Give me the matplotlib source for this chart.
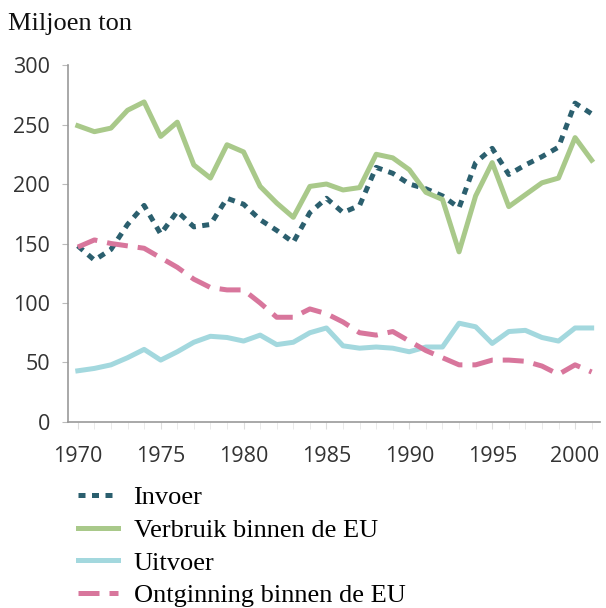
import matplotlib
matplotlib.use("Agg")
import matplotlib.pyplot as plt
from matplotlib.ticker import MultipleLocator

# data (miljoen ton)
years = list(range(1970, 2002))
invoer = [148, 136, 145, 166, 182, 158, 177, 164, 166, 188, 183, 170, 161, 151,
          176, 188, 176, 182, 214, 209, 200, 196, 190, 180, 218, 230, 208, 216,
          223, 231, 268, 259]
verbruik = [249, 244, 247, 262, 269, 240, 252, 216, 205, 233, 227, 198, 184, 172,
            198, 200, 195, 197, 225, 222, 212, 193, 187, 143, 190, 218, 181, 191,
            201, 205, 239, 220]
uitvoer = [43, 45, 48, 54, 61, 52, 59, 67, 72, 71, 68, 73, 65, 67,
           75, 79, 64, 62, 63, 62, 59, 63, 63, 83, 80, 66, 76, 77, 71, 68, 79, 79]
ontginning = [147, 153, 150, 148, 146, 138, 130, 120, 113, 111, 111, 100, 88, 88,
              95, 91, 84, 75, 73, 76, 68, 60, 54, 48, 48, 52, 52, 51, 47, 40, 48, 42]
labels = ["Invoer", "Verbruik binnen de EU", "Uitvoer", "Ontginning binnen de EU"]

serif = ["Liberation Serif", "DejaVu Serif"]

fig = plt.figure(figsize=(6.06, 6.08), dpi=100)
ax = fig.add_axes([0.112, 0.306, 0.878, 0.587])

lw = 3.6
l1, = ax.plot(years, invoer, color="#2b5f6e", lw=lw, dashes=(1.4, 1.3))
l2, = ax.plot(years, verbruik, color="#a9c98a", lw=lw)
l3, = ax.plot(years, uitvoer, color="#a3d8de", lw=lw)
l4, = ax.plot(years, ontginning, color="#d8769c", lw=lw, dashes=(4.2, 2.0))

ax.set_xlim(1969.4, 2001.5)
ax.set_ylim(0, 300)
ax.set_xticks(range(1970, 2001, 5))
ax.xaxis.set_minor_locator(MultipleLocator(1))
ax.set_yticks(range(0, 301, 50))

for s in ["top", "right"]:
    ax.spines[s].set_visible(False)
for s in ["left", "bottom"]:
    ax.spines[s].set_color("#999999")
    ax.spines[s].set_linewidth(1.2)

ax.tick_params(axis="x", which="major", length=5, color="#dddddd", pad=12,
               labelsize=15.5, labelcolor="#333333")
ax.tick_params(axis="x", which="minor", length=5, color="#e6e6e6")
ax.tick_params(axis="y", length=4, color="#bbbbbb", pad=9,
               labelsize=15.5, labelcolor="#333333")
for t in ax.get_xticklabels() + ax.get_yticklabels():
    t.set_fontfamily("Open Sans")

fig.text(0.013, 0.95, "Miljoen ton", family=serif, fontsize=19,
         color="#111111", va="baseline")

fig.legend([l1, l2, l3, l4], labels, loc="upper left",
           bbox_to_anchor=(0.129, 0.201), frameon=False,
           prop={"family": serif, "size": 19}, handlelength=1.5,
           handletextpad=0.6, labelspacing=0.35, borderaxespad=0,
           borderpad=0)

fig.savefig("out.png", dpi=100)
